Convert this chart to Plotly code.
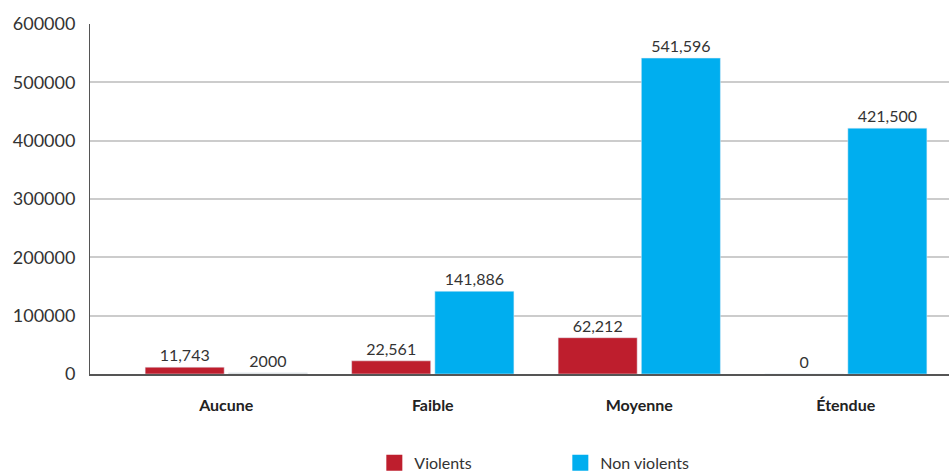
import plotly.graph_objects as go

categories = ["Aucune", "Faible", "Moyenne", "Étendue"]
violents = [11743, 22561, 62212, 0]
non_violents = [2000, 141886, 541596, 421500]
violents_labels = ["11,743", "22,561", "62,212", "0"]
non_violents_labels = ["2000", "141,886", "541,596", "421,500"]
y_ticks = [0, 100000, 200000, 300000, 400000, 500000, 600000]

RED = "#BE1E2D"
BLUE = "#00AEEF"
GRAY = "#DDDDDD"
non_violents_colors = [GRAY, BLUE, BLUE, BLUE]

FONT = "Lato"
TXT = "#333333"

fig = go.Figure()
fig.add_trace(go.Bar(
    x=categories, y=violents, name="Violents", marker_color=RED,
    text=violents_labels, textposition="outside", cliponaxis=False,
    textfont=dict(family=FONT, size=16, color=TXT), showlegend=False,
))
fig.add_trace(go.Bar(
    x=categories, y=non_violents, name="Non violents", marker_color=non_violents_colors,
    text=non_violents_labels, textposition="outside", cliponaxis=False,
    textfont=dict(family=FONT, size=16, color=TXT), showlegend=False,
))
# legend entries with large square swatches
fig.add_trace(go.Scatter(x=[None], y=[None], mode="markers", name="Violents",
                         marker=dict(symbol="square", size=20, color=RED)))
fig.add_trace(go.Scatter(x=[None], y=[None], mode="markers", name="Non violents",
                         marker=dict(symbol="square", size=20, color=BLUE)))

fig.update_layout(
    width=949, height=475,
    margin=dict(l=90, r=0, t=24, b=101, autoexpand=False),
    paper_bgcolor="white", plot_bgcolor="white",
    barmode="group", bargap=0.194, bargroupgap=0.05,
    font=dict(family=FONT, size=15, color=TXT),
    legend=dict(orientation="h", x=0.331, xanchor="left", y=-0.205, yanchor="top",
                entrywidth=141, entrywidthmode="pixels",
                font=dict(family=FONT, size=16, color=TXT)),
)
fig.update_xaxes(
    type="category", range=[-0.66, 3.5], automargin=False,
    showline=True, linecolor="#555555", linewidth=1.5,
    ticks="outside", ticklen=16, tickcolor="rgba(0,0,0,0)",
    tickfont=dict(family=FONT, size=16, color="#222222", weight="bold"),
    showgrid=False,
)
fig.update_yaxes(
    range=[0, 600000], tickvals=y_ticks, tickformat="d", automargin=False,
    showline=True, linecolor="#555555", linewidth=1,
    showgrid=True, gridcolor="#CCCCCC", gridwidth=1.5,
    zeroline=False,
    ticks="outside", ticklen=10, tickcolor="rgba(0,0,0,0)",
    tickfont=dict(family=FONT, size=18, color=TXT),
)

fig.write_html(
    "out.html",
    config={"displayModeBar": False},
    post_script="document.body.style.margin='0';document.body.style.padding='0';"
                "document.body.style.overflow='hidden';",
)
